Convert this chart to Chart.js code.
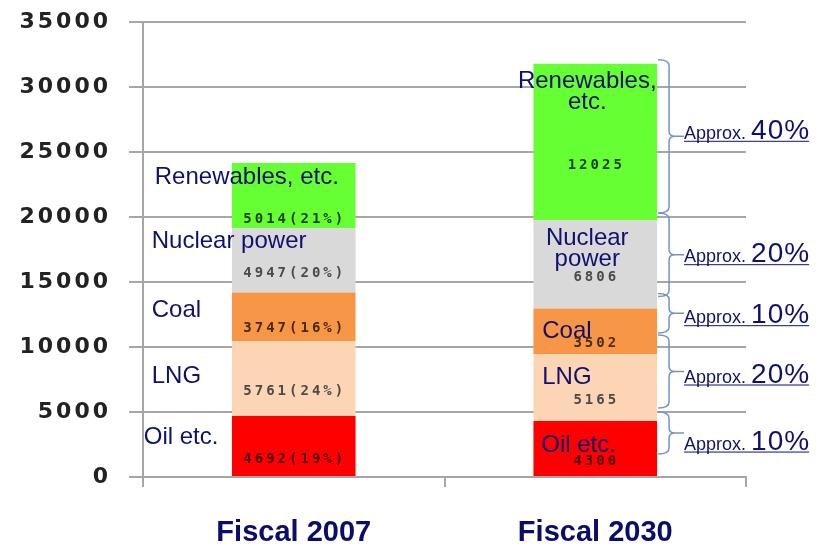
<!DOCTYPE html>
<html>
<head>
<meta charset="utf-8">
<title>Power generation mix</title>
<script src="https://cdn.jsdelivr.net/npm/chart.js@4.4.0/dist/chart.umd.min.js"></script>
<style>
  html, body { margin: 0; padding: 0; background: #fff; }
  #wrap { width: 820px; height: 546px; }
</style>
</head>
<body>
<div id="wrap"><canvas id="mix-chart"></canvas></div>
<script>
// Values
const categories = ["Fiscal 2007", "Fiscal 2030"];
const seriesNames = ["Oil etc.", "LNG", "Coal", "Nuclear power", "Renewables, etc."];
const oilValues = [4692, 4300];
const lngValues = [5761, 5165];
const coalValues = [3747, 3502];
const nuclearValues = [4947, 6806];
const renewableValues = [5014, 12025];
const showPercent = [true, false];            // 2007 labels carry the share
const approxShare2030 = ["10%", "20%", "10%", "20%", "40%"];
const yMin = 0;
const yMax = 35000;
const yStep = 5000;

// Styles
const seriesColors = ["#ff0000", "#fcd5b4", "#f79646", "#d9d9d9", "#66ff33"];
const valueColors = ["#4a0000", "#4a4a4a", "#4a2a10", "#4a4a4a", "#1e4010"];
const navy = "#10106e";
const braceColor = "#7393c6";
const gridColor = "#a6a6a6";

// Where each series name sits, relative to the bar centre / segment middle
const nameSpots = [
    [{ dx: -150, dy: -9 }, { dx: -142, dy: -2 }, { dx: -142, dy: -6 }, { dx: -142, dy: -19 }, { dx: -139, dy: -18 }],
    [{ dx: -54, dy: -3 }, { dx: -53, dy: -10 }, { dx: -53, dy: 0 }, { dx: -8, dy: -15, wrap: true }, { dx: -8, dy: -50, wrap: true }]
];
const valueDy = [13, 13, 12, 13, 24];
// Brace ends (from segment top / bottom) and text baseline (from segment middle)
const braceTopDy = [-9, -19, -15, -7, -4];
const braceBottomDy = [-22, -13, -21, -12, -7];
const shareTextDy = [1, -5, -8, -2, -3];

function splitName(name) {
    const i = name.indexOf(" ");
    return [name.slice(0, i), name.slice(i + 1)];
}

// Y tick labels are drawn wide, x labels are not
const spacingPlugin = {
    id: "spacing",
    beforeDraw(chart) { chart.ctx.letterSpacing = "3px"; },
    beforeDatasetsDraw(chart) { chart.ctx.letterSpacing = "0px"; }
};

// Series names and values on the bars
const segmentLabelPlugin = {
    id: "segmentLabels",
    afterDatasetsDraw(chart) {
        const ctx = chart.ctx;
        ctx.save();
        chart.data.datasets.forEach((ds, s) => {
            chart.getDatasetMeta(s).data.forEach((bar, c) => {
                const p = bar.getProps(["x", "y", "base", "width"], true);
                const mid = (p.y + p.base) / 2;
                const spot = nameSpots[c][s];
                const lines = spot.wrap ? splitName(seriesNames[s]) : [seriesNames[s]];
                ctx.letterSpacing = "0px";
                ctx.font = '24px "Liberation Sans", Arial, sans-serif';
                ctx.fillStyle = navy;
                ctx.textBaseline = "middle";
                ctx.textAlign = spot.wrap ? "center" : "left";
                lines.forEach((line, k) => {
                    ctx.fillText(line, p.x + spot.dx, mid + spot.dy + (k - (lines.length - 1) / 2) * 21);
                });

                const v = ds.data[c];
                let total = 0;
                chart.data.datasets.forEach(d => { total += d.data[c]; });
                const text = showPercent[c] ? v + "(" + Math.round(v / total * 100) + "%)" : String(v);
                ctx.letterSpacing = "3px";
                ctx.font = 'bold 14px "DejaVu Sans Mono", monospace';
                ctx.fillStyle = valueColors[s];
                ctx.textAlign = "center";
                ctx.fillText(text, p.x + 1, mid + valueDy[s]);
            });
        });
        ctx.restore();
    }
};

// Braces and "Approx." shares beside the 2030 bar
const bracePlugin = {
    id: "braces",
    afterDatasetsDraw(chart) {
        const ctx = chart.ctx;
        const c = 1;
        ctx.save();
        chart.data.datasets.forEach((ds, s) => {
            const p = chart.getDatasetMeta(s).data[c].getProps(["x", "y", "base", "width"], true);
            const x0 = p.x + p.width / 2 + 1;
            const xs = x0 + 11;
            const y1 = p.y + braceTopDy[s];
            const y2 = p.base + braceBottomDy[s];
            const ym = (y1 + y2) / 2;
            const baseline = (p.y + p.base) / 2 + shareTextDy[s];

            ctx.strokeStyle = braceColor;
            ctx.lineWidth = 1.5;
            ctx.beginPath();
            ctx.moveTo(x0, y1);
            ctx.quadraticCurveTo(xs, y1, xs, y1 + 6);
            ctx.lineTo(xs, ym - 5);
            ctx.quadraticCurveTo(xs, ym, xs + 6, ym);
            ctx.quadraticCurveTo(xs, ym, xs, ym + 5);
            ctx.lineTo(xs, y2 - 6);
            ctx.quadraticCurveTo(xs, y2, x0, y2);
            ctx.moveTo(xs + 6, ym);
            ctx.lineTo(xs + 15, ym);
            ctx.stroke();

            const tx = xs + 15;
            ctx.fillStyle = navy;
            ctx.textAlign = "left";
            ctx.textBaseline = "alphabetic";
            ctx.letterSpacing = "0px";
            ctx.font = '18px "Liberation Sans", Arial, sans-serif';
            ctx.fillText("Approx.", tx, baseline);
            const w1 = ctx.measureText("Approx. ").width;
            ctx.letterSpacing = "1px";
            ctx.font = '28px "Liberation Sans", Arial, sans-serif';
            ctx.fillText(approxShare2030[s], tx + w1, baseline);
            const w2 = ctx.measureText(approxShare2030[s]).width - 1;
            ctx.strokeStyle = navy;
            ctx.lineWidth = 1;
            ctx.beginPath();
            ctx.moveTo(tx, baseline + 2.5);
            ctx.lineTo(tx + w1 + w2, baseline + 2.5);
            ctx.stroke();
        });
        ctx.restore();
    }
};

function initChart() {
    const ctx = document.getElementById("mix-chart").getContext("2d");
    const seriesValues = [oilValues, lngValues, coalValues, nuclearValues, renewableValues];
    new Chart(ctx, {
        type: "bar",
        data: {
            labels: categories,
            datasets: seriesValues.map((vals, s) => ({
                label: seriesNames[s],
                data: vals,
                backgroundColor: seriesColors[s],
                borderWidth: 0,
                stack: "mix",
                categoryPercentage: 1,
                barPercentage: 0.41
            }))
        },
        options: {
            responsive: true,
            maintainAspectRatio: false,
            animation: false,
            layout: { padding: { top: 22, right: 74, left: 0, bottom: 0 } },
            plugins: { legend: { display: false }, tooltip: { enabled: false } },
            scales: {
                x: {
                    stacked: true,
                    afterFit(scale) { scale.height = 69; },
                    grid: { offset: true, drawOnChartArea: false, tickLength: 10, color: gridColor, lineWidth: 2 },
                    border: { color: gridColor, width: 2 },
                    ticks: {
                        z: 1,
                        color: "#0c0c6a",
                        padding: 29,
                        font: { family: '"Liberation Sans", Arial, sans-serif', size: 29, weight: "bold" }
                    }
                },
                y: {
                    stacked: true,
                    min: yMin,
                    max: yMax,
                    afterFit(scale) {
                        scale.width = 143;
                        scale.paddingTop = 12;
                        scale.paddingBottom = 12;
                    },
                    grid: { color: gridColor, lineWidth: 2, tickLength: 14 },
                    border: { color: gridColor, width: 2 },
                    ticks: {
                        stepSize: yStep,
                        color: "#222",
                        padding: 18,
                        callback: v => String(v),
                        font: { family: '"DejaVu Sans", sans-serif', size: 22, weight: "bold" }
                    }
                }
            }
        },
        plugins: [spacingPlugin, segmentLabelPlugin, bracePlugin]
    });
}

window.onload = initChart;
</script>
</body>
</html>
